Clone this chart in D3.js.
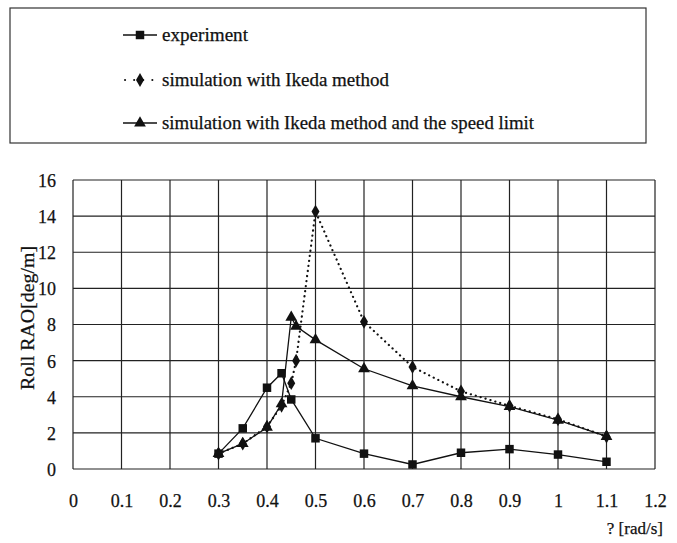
<!DOCTYPE html>
<html><head><meta charset="utf-8">
<script src="https://cdn.jsdelivr.net/npm/d3@7"></script>
<style>body{margin:0;background:#fff}svg{display:block}svg text{font-family:"Liberation Serif","Times New Roman",Times,"DejaVu Serif",serif !important;fill:#111;stroke:#111;stroke-width:0.25px}</style>
</head><body><svg id="c" width="677" height="543"></svg>
<script>
const expX = [0.3,0.35,0.4,0.43,0.45,0.5,0.6,0.7,0.8,0.9,1.0,1.1];
const expY = [0.85,2.25,4.5,5.3,3.85,1.7,0.85,0.25,0.9,1.1,0.8,0.4];
const ikedaX = [0.3,0.35,0.4,0.43,0.45,0.46,0.5,0.6,0.7,0.8,0.9,1.0,1.1];
const ikedaY = [0.85,1.4,2.35,3.5,4.75,6.0,14.25,8.15,5.65,4.3,3.5,2.75,1.8];
const speedX = [0.3,0.35,0.4,0.43,0.45,0.46,0.5,0.6,0.7,0.8,0.9,1.0,1.1];
const speedY = [0.85,1.4,2.3,3.6,8.4,7.9,7.15,5.55,4.6,4.0,3.45,2.7,1.8];
const xTicks = [0,0.1,0.2,0.3,0.4,0.5,0.6,0.7,0.8,0.9,1,1.1,1.2];
const yTicks = [0,2,4,6,8,10,12,14,16];
const legendLabels = ["experiment","simulation with Ikeda method","simulation with Ikeda method and the speed limit"];
const yTitle = "Roll RAO[deg/m]";
const xTitle = "? [rad/s]";

const FONT = '"Liberation Serif","Times New Roman",Times,"DejaVu Serif",serif';
const FS = 18;
const svg = d3.select("#c");
const L=73,R=655,T=180,B=469;
const x = d3.scaleLinear().domain([0,1.2]).range([L,R]);
const y = d3.scaleLinear().domain([0,16]).range([B,T]);

const g = svg.append("g");
g.selectAll(".vg").data(xTicks).join("line")
 .attr("x1",d=>x(d)).attr("x2",d=>x(d)).attr("y1",T).attr("y2",B)
 .attr("stroke","#222").attr("stroke-width",1.2);
g.selectAll(".hg").data(yTicks).join("line")
 .attr("x1",L).attr("x2",R).attr("y1",d=>y(d)).attr("y2",d=>y(d))
 .attr("stroke","#222").attr("stroke-width",1.2);

const xa = svg.append("g").attr("transform",`translate(0,${B+22})`)
 .call(d3.axisBottom(x).tickValues(xTicks).tickSize(0).tickFormat(d=>String(d)));
xa.attr("font-family",FONT).attr("font-size",FS);
xa.select(".domain").remove();
xa.selectAll("text").style("font-family",FONT).attr("font-size",FS).attr("fill","#111");
const ya = svg.append("g").attr("transform",`translate(${L-14},0)`)
 .call(d3.axisLeft(y).tickValues(yTicks).tickSize(0).tickFormat(d=>String(d)));
ya.attr("font-family",FONT).attr("font-size",FS);
ya.select(".domain").remove();
ya.selectAll("text").style("font-family",FONT).attr("font-size",FS).attr("fill","#111").attr("dy","0.36em");

svg.append("text").attr("transform","translate(34,318) rotate(-90)").style("font-family",FONT)
 .attr("text-anchor","middle").attr("font-size",FS)
 .attr("textLength",144).attr("lengthAdjust","spacingAndGlyphs").text(yTitle);
svg.append("text").attr("x",663).attr("y",534).attr("text-anchor","end").style("font-family",FONT)
 .attr("font-size",17).text(xTitle);

const line = d3.line().x(d=>x(d[0])).y(d=>y(d[1]));
const zip=(a,b)=>a.map((v,i)=>[v,b[i]]);
const expD=zip(expX,expY), ikD=zip(ikedaX,ikedaY), spD=zip(speedX,speedY);

svg.append("path").datum(ikD).attr("d",line).attr("fill","none").attr("stroke","#111")
 .attr("stroke-width",2.2).attr("stroke-dasharray","0.1,5").attr("stroke-linecap","round");
svg.append("path").datum(spD).attr("d",line).attr("fill","none").attr("stroke","#111").attr("stroke-width",1.3);
svg.append("path").datum(expD).attr("d",line).attr("fill","none").attr("stroke","#111").attr("stroke-width",1.3);

const sq=d3.symbol().type(d3.symbolSquare).size(72);
const dm=d3.symbol().type(d3.symbolDiamond).size(55);
const tr=d3.symbol().type(d3.symbolTriangle).size(60);
svg.selectAll(".dm").data(ikD).join("path").attr("d",dm)
 .attr("transform",d=>`translate(${x(d[0])},${y(d[1])})`).attr("fill","#111");
svg.selectAll(".tr").data(spD).join("path").attr("d",tr)
 .attr("transform",d=>`translate(${x(d[0])},${y(d[1])})`).attr("fill","#111");
svg.selectAll(".sq").data(expD).join("path").attr("d",sq)
 .attr("transform",d=>`translate(${x(d[0])},${y(d[1])})`).attr("fill","#111");

svg.append("rect").attr("x",10).attr("y",8).attr("width",636).attr("height",135)
 .attr("fill","none").attr("stroke","#333").attr("stroke-width",1.2);
const rows=[35,80,123];
const widths=[86,227,372];
const syms=[sq,dm,tr];
legendLabels.forEach((t,i)=>{
  const ly=rows[i];
  const ln=svg.append("line").attr("x1",123).attr("x2",157).attr("y1",ly).attr("y2",ly)
    .attr("stroke","#111").attr("stroke-width",1.3);
  if(i===1) ln.attr("stroke-width",2).attr("stroke-dasharray","0.1,9").attr("stroke-linecap","round").attr("x1",125);
  svg.append("path").attr("d",syms[i]).attr("transform",`translate(140,${ly})`).attr("fill","#111");
  svg.append("text").attr("x",162).attr("y",ly).attr("dy","0.32em").attr("font-size",FS).style("font-family",FONT)
    .attr("textLength",widths[i]).attr("lengthAdjust","spacingAndGlyphs").text(t);
});
</script></body></html>
